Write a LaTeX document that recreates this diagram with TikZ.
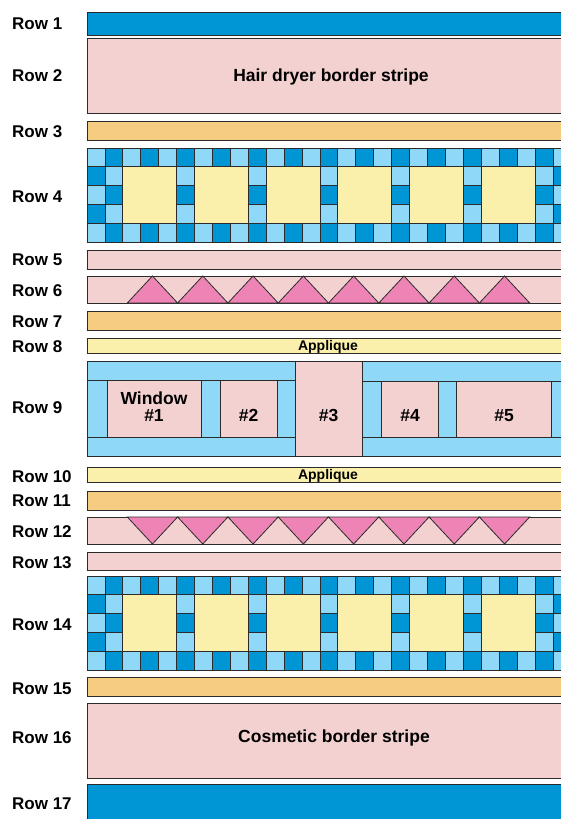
\documentclass[tikz,border=0pt]{standalone}
\usepackage{fontspec}
\setmainfont{Liberation Sans}
\usetikzlibrary{positioning}
\definecolor{quiltBlue}{HTML}{0096D6}
\definecolor{quiltSky}{HTML}{8FD8F7}
\definecolor{quiltPink}{HTML}{F4D1D1}
\definecolor{quiltOrange}{HTML}{F6CB82}
\definecolor{quiltYellow}{HTML}{FAF0AC}
\definecolor{quiltRose}{HTML}{EE84B6}
\definecolor{quiltLine}{HTML}{2B2B2B}

% checkerboard row with six yellow blocks, top edge at #1
\newcommand{\checkrow}[1]{%
  \foreach \c in {0,...,26}
    \foreach \r in {0,...,4} {
      \pgfmathtruncatemacro\cellodd{mod(\c+\r,2)}
      \ifnum\cellodd=1 \def\cellfill{quiltBlue}\else\def\cellfill{quiltSky}\fi
      \draw[cell, fill=\cellfill] ({87+17.92*\c},{#1+18.85*\r}) rectangle ++(17.92,18.85);
    }
  \foreach \k in {0,...,5}
    \draw[cell, fill=quiltYellow] ({87+17.92*(2+4*\k)},{#1+18.85}) rectangle ++(53.76,56.55);
}

\begin{document}
\begin{tikzpicture}[x=1pt, y=-1pt,
  band/.style={draw=quiltLine, line width=0.9pt},
  cell/.style={draw=quiltLine, line width=0.8pt},
  rowlabel/.style={anchor=west, inner sep=0pt, font=\fontsize{17}{18}\selectfont\bfseries},
  bigtext/.style={inner sep=0pt, align=center, font=\fontsize{17.5}{17}\selectfont\bfseries},
  smalltext/.style={inner sep=0pt, font=\fontsize{14}{15}\selectfont\bfseries},
]
\clip (0,0) rectangle (561,819);
\fill[white] (0,0) rectangle (561,819);

% plain bands
\foreach \t/\b/\c in {12/35/quiltBlue, 38/113/quiltPink, 121/140/quiltOrange,
    250/269/quiltPink, 276/303/quiltPink, 311/330/quiltOrange, 338/353/quiltYellow,
    467/482/quiltYellow, 491/510/quiltOrange, 517/544/quiltPink, 552/570/quiltPink,
    677/696/quiltOrange, 703/778/quiltPink, 784/830/quiltBlue}
  \draw[band, fill=\c] (87,\t) rectangle (566,\b);

% rows 4 and 14
\checkrow{148}
\checkrow{576}

% triangles, rows 6 and 12
\foreach \k in {0,...,7} {
  \draw[cell, fill=quiltRose] ({127.3+50.3*\k},303) -- ++(25.15,-27) -- ++(25.15,27) -- cycle;
  \draw[cell, fill=quiltRose] ({127.3+50.3*\k},517) -- ++(25.15,27) -- ++(25.15,-27) -- cycle;
}

% row 9, windows
\foreach \xa/\ya/\xb/\yb in {87/361/295/380, 87/437/295/456, 87/380/107/437,
    201/380/220/437, 277/380/295/437, 362/361/566/381, 362/437/566/456,
    362/381/381/437, 438/381/456/437, 551/381/566/437}
  \draw[cell, fill=quiltSky] (\xa,\ya) rectangle (\xb,\yb);
\foreach \xa/\ya/\xb/\yb in {107/380/201/437, 220/380/277/437, 295/361/362/456,
    381/381/438/437, 456/381/551/437}
  \draw[cell, fill=quiltPink] (\xa,\ya) rectangle (\xb,\yb);

\node[bigtext] (win1) at (154,407) {Window\\\#1};
\node[bigtext] (win2) at (248.5,415.5) {\#2};
\node[bigtext] (win3) at (328.5,415.5) {\#3};
\node[bigtext] (win4) at (410,415.5) {\#4};
\node[bigtext] (win5) at (504,415.5) {\#5};

\node[bigtext] (hair) at (331,77) {Hair dryer border stripe};
\node[bigtext] (cosm) at (334,738) {Cosmetic border stripe};
\node[smalltext] (app1) at (328,346.5) {Applique};
\node[smalltext] (app2) at (328,475.5) {Applique};

\foreach \i/\y in {1/23.5, 2/75.5, 3/131.5, 4/196.5, 5/259.5, 6/290.5, 7/321.5, 8/346.5, 9/407.5,
    10/476.5, 11/500.5, 12/531.5, 13/562.5, 14/624.5, 15/688.5, 16/737.5, 17/803.5}
  \node[rowlabel] (lab\i) at (12,\y) {Row \i};
\end{tikzpicture}
\end{document}
